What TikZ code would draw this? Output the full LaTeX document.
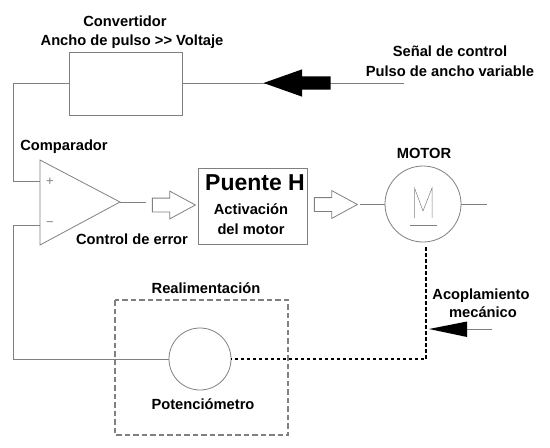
\documentclass[tikz,border=0pt]{standalone}
\usepackage{fontspec}
\setmainfont{Liberation Sans}
\usetikzlibrary{arrows.meta,positioning,calc,shapes.geometric,shapes.arrows}
\definecolor{wire}{gray}{0.5}
\tikzset{
  lbl/.style={font=\fontsize{14.7}{16}\selectfont\bfseries, align=center, inner sep=0pt},
  wireline/.style={draw=wire, line width=0.8pt},
  block/.style={draw=wire, line width=0.8pt, fill=white, inner sep=0pt},
  hollowarrow/.style={single arrow, draw=wire, line width=0.8pt, fill=white, inner sep=6.5pt, minimum width=27pt, minimum height=43pt, single arrow tip angle=57, single arrow head extend=7pt},
  shaftline/.style={draw=black, line width=2.2pt, dash pattern=on 3.5pt off 2.5pt},
  frameline/.style={draw=wire, line width=2.2pt, dash pattern=on 5.5pt off 3pt}
}
\begin{document}
\begin{tikzpicture}[x=1pt, y=-1pt]
\useasboundingbox (0,0) rectangle (550,448);
% feedback frame
\coordinate (frameNW) at (115,300);
\coordinate (frameSE) at (288,435);
\draw[frameline] (frameNW) rectangle (frameSE);
% blocks
\node[block, minimum width=112.5pt, minimum height=63pt] (conv) at (125.7,83.5) {};
\node[block, minimum width=109pt, minimum height=76pt] (puente) at (252.5,206) {};
\node[block, circle, minimum size=76pt] (motor) at (423,204) {};
\node[block, circle, minimum size=62pt] (pot) at (200,359) {};
\coordinate (compA) at (40,160);
\coordinate (compB) at (40,245);
\coordinate (compOut) at (120,202);
\coordinate (compPlus) at (40,181);
\coordinate (compMinus) at (40,225);
\draw[wireline] (compA) -- (compOut) -- (compB) -- cycle;
% wires
\coordinate (ctrlEnd) at (404,83.5);
\coordinate (compEnd) at (146,202);
\coordinate (motorIn) at (360,204);
\coordinate (motorOut) at (487,204);
\draw[wireline] (ctrlEnd) -- (conv.east);
\draw[wireline] (conv.west) -- (13,83.5) |- (compPlus);
\draw[wireline] (compMinus) -- (13,225) |- (pot.west);
\draw[wireline] (compOut) -- (compEnd);
\draw[wireline] (motorIn) -- (motor.west);
\draw[wireline] (motor.east) -- (motorOut);
\draw[shaftline] (426,247) -- (426,359) -- (pot.east);
% arrows
\node[hollowarrow] (errArrow) at (167.5,205) {};
\node[hollowarrow] (driveArrow) at (329.5,204.5) {};
\node[single arrow, fill=black, inner sep=6.5pt, minimum width=27pt, minimum height=67pt, single arrow tip angle=39, single arrow head extend=7pt, shape border rotate=180] (ctrlArrow) at (306.5,83) {};
\coordinate (mechEnd) at (492,329);
\coordinate (mechBase) at (467,329);
\draw[wireline] (mechEnd) -- (mechBase);
\fill (429,329) -- (467,321.5) -- (467,337) -- cycle;
% comparator signs and motor glyph
\node[font=\fontsize{13}{13}\selectfont, text=wire, inner sep=0pt] (plusSign) at (50,181.5) {+};
\node[font=\fontsize{13}{13}\selectfont, text=wire, inner sep=0pt] (minusSign) at (50,224.5) {\textminus};
\draw[wire, line width=0.5pt] (414.5,218) -- (414.5,188) -- (423,211) -- (432,188) -- (432,218);
\draw[wire, line width=0.8pt] (410,225) -- (437,225);
% labels
\node[lbl] (convTitle) at (125,21.5) {Convertidor};
\node[lbl] (convSub) at (132,41.5) {Ancho de pulso >{}> Voltaje};
\node[lbl] (signalTitle) at (450,51.5) {Señal de control};
\node[lbl] (signalSub) at (450,71) {Pulso de ancho variable};
\node[lbl] (compTitle) at (64,147) {Comparador};
\node[lbl] (errTitle) at (132,239.5) {Control de error};
\node[lbl, font=\fontsize{23}{25}\selectfont\bfseries] (puenteTitle) at (255,183) {Puente H};
\node[lbl] (puenteSubA) at (251,209) {Activación};
\node[lbl] (puenteSubB) at (251,229.5) {del motor};
\node[lbl] (motorTitle) at (424,153.5) {MOTOR};
\node[lbl] (frameTitle) at (206,288) {Realimentación};
\node[lbl] (potTitle) at (203,404.5) {Potenciómetro};
\node[lbl] (mechA) at (481,296) {Acoplamiento};
\node[lbl] (mechB) at (483,312) {mecánico};
\end{tikzpicture}
\end{document}
